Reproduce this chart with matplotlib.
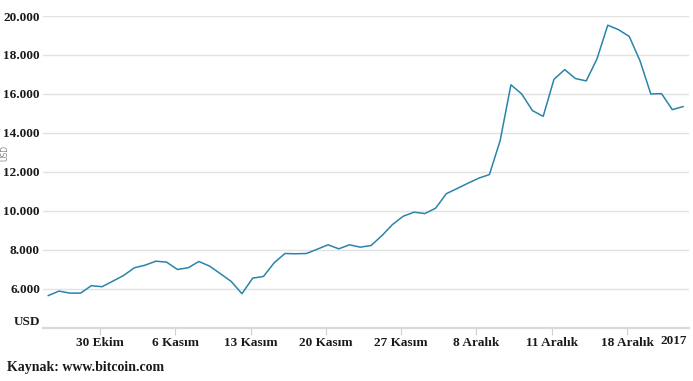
#!/usr/bin/env python3

import numpy
import matplotlib
matplotlib.use('Agg')
import matplotlib.pyplot as plt
from matplotlib.ticker import FixedLocator, FuncFormatter

# Daily bitcoin price (USD)
prices = [
    5650, 5880, 5775, 5775, 6155, 6105, 6390, 6680, 7075, 7210,
    7415, 7365, 6990, 7075, 7400, 7160, 6770, 6375, 5745, 6545,
    6630, 7335, 7810, 7795, 7810, 8030, 8255, 8050, 8255, 8135,
    8220, 8720, 9300, 9725, 9930, 9860, 10135, 10880, 11145, 11415,
    11675, 11860, 13610, 16470, 16000, 15145, 14850, 16750, 17250, 16790,
    16670, 17800, 19530, 19300, 18950, 17700, 16000, 16015, 15195, 15350,
]

tick_labels = ["30 Ekim", "6 Kasım", "13 Kasım", "20 Kasım", "27 Kasım",
               "8 Aralık", "11 Aralık", "18 Aralık"]
first_tick = 4.8      # day index of the first date tick
tick_step = 7
end_label = "2017"
end_label_pos = 58.1

y_ticks = [4000, 6000, 8000, 10000, 12000, 14000, 16000, 18000, 20000]

LINE_COLOR = '#2a84aa'
GRID_COLOR = '#e2e2e2'
FONT = ['Liberation Serif', 'DejaVu Serif']


def fmt_y(v, pos):
    if v == 4000:
        return "USD"
    return "{:,}".format(int(v)).replace(",", ".")


def create_plot():
    fig = plt.figure(figsize=(6.93, 3.81), dpi=100)
    ax = fig.add_axes([0.0616, 0.1399, 0.9326, 0.818])

    x = numpy.arange(len(prices))
    ax.plot(x, prices, color=LINE_COLOR, linewidth=1.1, clip_on=False, zorder=3)

    ax.set_xlim(-0.52, 59.55)
    ax.set_ylim(4000, 20000)

    # Grid
    ax.yaxis.set_major_locator(FixedLocator(y_ticks))
    ax.yaxis.set_major_formatter(FuncFormatter(fmt_y))
    ax.grid(axis='y', color=GRID_COLOR, linewidth=1.0)
    ax.set_axisbelow(True)
    for side in ['top', 'right', 'left']:
        ax.spines[side].set_visible(False)
    ax.spines['bottom'].set_color('#d9d9d9')
    ax.spines['bottom'].set_linewidth(1.6)

    # X ticks
    xt = [first_tick + i * tick_step for i in range(len(tick_labels))]
    ax.set_xticks(xt)
    ax.set_xticklabels(tick_labels)
    ax.tick_params(axis='x', length=5, color='#d0d0d0', pad=2)
    ax.tick_params(axis='y', length=0, pad=2)
    for lbl in ax.get_xticklabels() + ax.get_yticklabels():
        lbl.set_family(FONT)
        lbl.set_fontweight('bold')
        lbl.set_fontsize(9.5)
        lbl.set_color('#1a1a1a')
    # bottom "USD" sits a little above the axis line
    ax.get_yticklabels()[0].set_verticalalignment('bottom')

    ax.text(end_label_pos, -0.023, end_label, transform=ax.get_xaxis_transform(),
            ha='center', va='top', family=FONT, fontweight='bold', fontsize=9.5,
            color='#1a1a1a')

    ax.set_ylabel("USD", fontsize=5.5, color='#888888', labelpad=0)
    ax.yaxis.set_label_coords(-0.051, 0.56)

    fig.text(0.0105, 0.035, "Kaynak: www.bitcoin.com", family=FONT,
             fontweight='bold', fontsize=10, color='#1a1a1a', va='center')

    return fig


if __name__ == '__main__':
    fig = create_plot()
    fig.savefig("out.png", dpi=100)
